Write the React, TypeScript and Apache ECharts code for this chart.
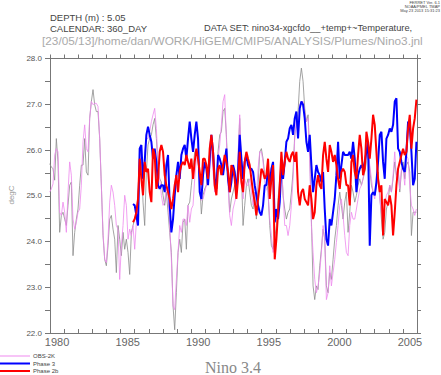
import React, { useEffect, useRef } from "react";
import * as echarts from "echarts";

const SAMPLE_START = 1979.977;
const SAMPLE_STEP = 0.1181;
const MODEL_START_INDEX = 50;

const X_MIN = 1980;
const X_MAX = 2006;
const Y_MIN = 22;
const Y_MAX = 28;
const X_LABEL_YEARS = [1980, 1985, 1990, 1995, 2000, 2005];

// Unlabelled grey observational curve
const obsGrey = [
  25.70, 25.63, 25.59, 25.34, 26.25, 25.74, 24.20, 24.57, 24.64, 24.49,
  24.35, 24.79, 25.23, 25.30, 23.69, 24.20, 24.49, 24.71, 25.23, 25.67,
  25.67, 26.25, 25.52, 25.45, 26.69, 27.06, 27.32, 26.99, 26.84, 26.84,
  26.25, 25.23, 24.13, 23.61, 23.47, 23.91, 24.49, 24.57, 24.27, 24.05,
  23.32, 24.35, 24.05, 23.69, 24.20, 23.83,
  24.05, 23.76, 23.28, 24.20, 24.35, 24.49, 24.64, 25.01, 25.59, 25.74,
  24.86, 24.35, 25.52, 26.11, 26.25, 26.33, 26.55, 26.69, 26.25, 25.67,
  25.37, 25.30, 25.01, 24.79, 25.08, 24.64, 24.20, 23.76, 22.59, 22.07,
  22.88, 23.76, 24.05, 23.76, 24.42, 24.49, 23.83, 24.79, 24.86, 25.23,
  25.59, 25.96, 26.00, 25.80,
  25.30, 24.60, 25.01, 25.15, 25.23, 25.59, 25.74, 26.11, 25.67, 25.15,
  25.23, 25.96, 26.33, 26.40, 26.84, 26.91, 26.33, 25.37, 24.64, 24.93,
  25.08, 25.23, 24.93, 25.81, 26.69, 25.52, 24.35, 24.79, 25.23, 25.37,
  25.08, 24.79, 24.71, 25.08, 24.49, 25.23, 25.96, 26.03, 25.81, 25.45,
  25.37, 25.08, 24.35, 23.91, 23.83,
  24.05, 24.35, 24.93, 25.37, 25.74, 25.01, 24.71, 24.49, 24.64, 24.71,
  25.08, 25.52, 26.33, 26.55, 26.84, 27.50, 27.79, 27.50, 26.91, 26.62,
  26.77, 25.96, 24.49, 23.03, 22.73, 23.03, 22.95, 23.47, 23.83, 24.27,
  24.05, 23.03, 22.88, 23.32, 23.17, 23.61, 24.05, 24.35, 24.79, 25.08,
  24.79, 24.49, 24.86, 25.08,
  24.20, 24.64, 25.23, 25.08, 24.86, 25.01, 25.23, 25.37, 25.23, 25.37,
  25.52, 25.74, 26.03, 25.59, 25.23, 25.08, 25.01, 25.23, 25.52, 25.01,
  24.49, 24.05, 24.20, 24.71, 24.86, 25.23, 25.08, 25.37, 25.74, 25.45,
  25.59, 25.08, 25.52, 25.74, 25.37, 25.67, 25.74, 25.52, 24.13, 24.64,
  24.64, 24.64,
];

const obs2k = [
  25.08, 25.15, 25.26, 25.89, 26.03, 25.96, 24.64, 24.57, 24.86, 24.64,
  24.20, 25.08, 25.74, 25.45, 24.49, 24.27, 24.42, 24.64, 24.71, 25.23,
  26.18, 26.55, 26.03, 25.96, 26.69, 27.06, 26.99, 27.02, 27.02, 26.95,
  26.25, 25.23, 24.20, 23.61, 23.54, 24.05, 24.86, 25.23, 25.08, 24.79,
  24.35, 24.27, 23.17, 23.91, 24.35, 25.01,
  24.79, 24.05, 24.27, 24.13, 24.35, 23.83, 24.42, 24.71, 25.67, 25.96,
  25.23, 25.96, 26.25, 26.25, 26.40, 26.62, 26.77, 26.91, 26.47, 25.74,
  25.37, 25.01, 24.79, 24.86, 25.23, 24.93, 24.35, 23.61, 22.59, 22.51,
  23.17, 23.76, 24.35, 24.20, 24.49, 24.49, 24.35, 24.79, 24.42, 24.71,
  24.79, 25.37, 25.80, 25.90,
  25.40, 24.90, 24.93, 25.08, 25.23, 25.37, 25.52, 26.11, 25.52, 25.08,
  25.23, 25.81, 26.11, 26.55, 27.06, 27.21, 26.25, 25.23, 24.57, 24.35,
  24.71, 24.86, 25.01, 25.89, 26.77, 25.74, 24.93, 25.37, 25.23, 25.23,
  25.37, 25.08, 24.79, 25.08, 24.93, 25.59, 25.96, 25.96, 25.74, 25.30,
  25.15, 25.08, 24.49, 24.13, 23.76,
  23.98, 24.20, 24.64, 25.08, 25.59, 25.08, 24.35, 24.35, 24.13, 24.35,
  24.79, 25.37, 26.25, 26.69, 26.47, 26.99, 27.06, 27.06, 26.84, 26.62,
  26.69, 25.74, 24.35, 23.76, 23.17, 22.88, 23.03, 23.32, 23.76, 24.35,
  24.05, 22.73, 22.88, 23.47, 23.03, 23.32, 23.61, 23.98, 24.35, 24.79,
  24.93, 24.57, 24.13, 23.76,
  23.69, 24.35, 24.64, 24.49, 24.49, 24.71, 24.93, 25.15, 25.23, 25.37,
  25.67, 25.81, 26.03, 25.67, 25.37, 25.08, 24.93, 25.23, 25.45, 24.93,
  24.64, 24.49, 24.79, 25.01, 25.08, 25.23, 25.08, 25.45, 25.96, 25.37,
  25.59, 25.15, 25.59, 25.59, 25.23, 25.89, 25.81, 25.23, 24.79, 24.71,
  24.57, 24.71,
];

const phase3 = [
  24.82, 24.79, 24.57, 24.35, 26.03, 26.11, 25.37, 25.74, 26.33, 26.51,
  26.33, 26.18, 25.81, 26.03, 25.74, 25.23, 25.15, 25.23, 25.23, 25.08,
  25.67, 25.89, 24.79, 24.20, 24.49, 25.01, 25.45, 25.74, 25.37, 25.89,
  26.03, 26.11, 25.81, 26.25, 26.62, 26.25, 25.96, 26.33, 26.62, 26.25,
  25.08, 24.93, 25.45, 25.74, 25.59, 25.23, 25.81, 26.33, 25.96, 25.37,
  25.15, 25.89, 25.81, 25.67, 25.45, 25.74, 26.03, 25.37, 25.08, 25.30,
  25.67, 25.52, 25.08, 25.52, 26.33, 25.81, 25.37, 25.74, 25.89, 25.67,
  25.59, 25.59, 25.52, 25.23, 25.01, 24.79, 24.64, 24.57, 24.79, 25.23,
  25.23, 25.59, 25.23, 25.59, 25.74,
  24.42, 24.71, 24.49, 24.86, 25.67, 25.37, 25.74, 26.18, 26.25, 26.47,
  26.55, 26.33, 26.69, 26.84, 26.25, 26.91, 27.06, 26.99, 26.69, 26.18,
  25.96, 26.33, 25.67, 25.08, 25.37, 25.67, 25.52, 25.45, 25.30, 25.52,
  24.71, 24.05, 23.91, 24.49, 24.35, 24.64, 24.93, 25.45, 26.18, 25.37,
  25.67, 25.96, 25.89, 25.89,
  25.89, 25.96, 25.81, 26.18, 25.81, 25.08, 25.45, 25.59, 25.67, 25.59,
  25.74, 25.96, 26.18, 23.91, 25.01, 25.08, 25.01, 25.30, 25.74, 26.33,
  26.40, 25.74, 25.37, 26.25, 26.33, 26.47, 26.40, 26.55, 27.06, 27.13,
  26.03, 25.96, 25.74, 25.59, 25.52, 25.96, 26.62, 26.55, 25.96, 25.23,
  25.37, 26.18,
];

const phase2b = [
  24.42, 24.49, 24.64, 24.93, 25.81, 25.37, 25.01, 25.74, 25.52, 25.59,
  25.08, 24.86, 26.03, 25.89, 25.15, 25.37, 25.96, 26.11, 25.96, 25.45,
  25.23, 25.08, 24.93, 24.71, 24.93, 25.23, 25.45, 25.08, 25.52, 25.67,
  25.74, 25.67, 25.89, 25.74, 25.59, 25.81, 25.37, 25.74, 26.03, 25.81,
  25.52, 25.23, 25.81, 25.81, 25.67, 25.37, 26.03, 26.33, 25.96, 25.23,
  25.01, 25.59, 25.67, 25.45, 25.67, 25.89, 25.74, 25.52, 25.08, 25.67,
  25.59, 25.37, 24.93, 25.37, 25.96, 25.30, 25.08, 25.74, 25.96, 25.81,
  25.67, 25.37, 25.08, 24.86, 24.57, 24.93, 25.23, 25.59, 25.52, 25.37,
  25.45, 25.81, 24.93, 25.37, 25.67,
  23.61, 24.05, 24.64, 25.23, 25.96, 25.45, 25.74, 25.96, 25.81, 25.74,
  25.89, 25.96, 25.74, 25.96, 25.08, 24.79, 25.08, 25.15, 24.93, 24.86,
  24.79, 25.23, 24.93, 24.49, 24.64, 25.23, 25.45, 25.23, 25.15, 25.89,
  26.18, 25.81, 25.52, 26.11, 25.96, 25.74, 25.89, 25.67, 25.37, 25.15,
  25.52, 25.59, 25.52, 25.23,
  25.23, 24.79, 25.74, 25.89, 25.52, 25.37, 25.89, 26.33, 26.03, 25.45,
  25.59, 26.40, 26.18, 25.81, 26.25, 26.77, 26.55, 25.96, 25.37, 25.08,
  25.23, 24.13, 24.93, 24.86, 24.79, 25.01, 24.79, 24.13, 24.64, 25.23,
  25.59, 25.74, 25.89, 26.03, 25.89, 25.96, 26.47, 26.77, 26.03, 26.47,
  26.69, 27.10,
];

const toPairs = (vals: number[], startIndex: number) =>
  vals.map((v, k) => [SAMPLE_START + (startIndex + k) * SAMPLE_STEP, v]);

const FONT = "Liberation Sans";

export default function App() {
  const ref = useRef<HTMLDivElement>(null);
  useEffect(() => {
    if (!ref.current) return;
    const chart = echarts.init(ref.current, undefined, { renderer: "svg" });
    const axisColor = "#777";
    const commonX = {
      type: "value" as const,
      min: X_MIN,
      max: X_MAX,
      interval: 1,
      splitLine: { show: false },
    };
    const commonY = {
      type: "value" as const,
      min: Y_MIN,
      max: Y_MAX,
      interval: 0.5,
      splitLine: { show: false },
    };
    chart.setOption({
      animation: false,
      backgroundColor: "#ffffff",
      grid: { left: 50, right: 24, top: 58.5, bottom: 42, containLabel: false },
      xAxis: [
        {
          ...commonX,
          position: "bottom",
          axisLine: { show: true, lineStyle: { color: axisColor, width: 1 } },
          axisTick: { show: true, inside: true, length: 4, lineStyle: { color: axisColor } },
          axisLabel: { show: false },
        },
        {
          ...commonX,
          position: "top",
          axisLine: { show: true, lineStyle: { color: axisColor, width: 1 } },
          axisTick: { show: true, inside: false, length: 4, lineStyle: { color: axisColor } },
          axisLabel: { show: false },
        },
        {
          type: "value",
          min: X_MIN,
          max: X_MAX,
          interval: 0.5,
          position: "bottom",
          splitLine: { show: false },
          axisLine: { show: false },
          axisTick: { show: false },
          axisLabel: {
            show: true,
            margin: 3,
            fontFamily: FONT,
            fontSize: 11,
            color: "#666",
            formatter: (v: number) => {
              const y = Math.floor(v);
              return v - y === 0.5 && X_LABEL_YEARS.includes(y) ? String(y) : "";
            },
          },
        },
      ],
      yAxis: [
        {
          ...commonY,
          position: "left",
          axisLine: { show: true, lineStyle: { color: axisColor, width: 1 } },
          axisTick: { show: true, inside: false, length: 5, lineStyle: { color: axisColor } },
          axisLabel: {
            show: true,
            margin: 8,
            fontFamily: FONT,
            fontSize: 8,
            color: "#555",
            formatter: (v: number) => (Number.isInteger(v) ? v.toFixed(1) : ""),
          },
        },
        {
          ...commonY,
          position: "right",
          axisLine: { show: true, lineStyle: { color: axisColor, width: 1 } },
          axisTick: { show: true, inside: false, length: 4, lineStyle: { color: axisColor } },
          axisLabel: { show: false },
        },
      ],
      legend: {
        data: [
          { name: "OBS-2K", icon: "rect", itemStyle: { color: "#f7c4f7" } },
          { name: "Phase 3", icon: "rect", itemStyle: { color: "#0000ff" } },
          { name: "Phase 2b", icon: "rect", itemStyle: { color: "#ff0000" } },
        ],
        orient: "vertical",
        left: 0,
        top: 353,
        itemWidth: 30,
        itemHeight: 2,
        itemGap: 1.5,
        padding: 0,
        textStyle: { fontFamily: FONT, fontSize: 6, color: "#444", padding: [0, 0, 0, -2] },
      },
      series: [
        {
          name: "OBS",
          type: "line",
          data: toPairs(obsGrey, 0),
          showSymbol: false,
          symbol: "none",
          lineStyle: { color: "#8c8c8c", width: 0.8 },
          itemStyle: { color: "#8c8c8c" },
          z: 1,
        },
        {
          name: "OBS-2K",
          type: "line",
          data: toPairs(obs2k, 0),
          showSymbol: false,
          symbol: "none",
          lineStyle: { color: "#ee88ee", width: 0.8 },
          itemStyle: { color: "#ee88ee" },
          z: 2,
        },
        {
          name: "Phase 3",
          type: "line",
          data: toPairs(phase3, MODEL_START_INDEX),
          showSymbol: false,
          symbol: "none",
          lineStyle: { color: "#0000ff", width: 2 },
          itemStyle: { color: "#0000ff" },
          z: 3,
        },
        {
          name: "Phase 2b",
          type: "line",
          data: toPairs(phase2b, MODEL_START_INDEX),
          showSymbol: false,
          symbol: "none",
          lineStyle: { color: "#ff0000", width: 2 },
          itemStyle: { color: "#ff0000" },
          z: 4,
        },
      ],
      graphic: [
        {
          type: "text",
          x: 440,
          y: 0,
          style: {
            text: "FERRET Ver. 6.1\nNOAA/PMEL TMAP\nMay 23 2013 15:31:23",
            fontFamily: FONT,
            fontSize: 4,
            lineHeight: 4.3,
            fill: "#444",
            textAlign: "right",
          },
        },
        {
          type: "text",
          x: 50,
          y: 12,
          style: { text: "DEPTH (m) : 5.05", fontFamily: FONT, fontSize: 9.5, fill: "#444" },
        },
        {
          type: "text",
          x: 50,
          y: 23,
          style: { text: "CALENDAR: 360_DAY", fontFamily: FONT, fontSize: 9.5, fill: "#444" },
        },
        {
          type: "text",
          x: 204,
          y: 23,
          style: {
            text: "DATA SET: nino34-xgcfdo__+temp+~Temperature,",
            fontFamily: FONT,
            fontSize: 9.3,
            fill: "#444",
          },
        },
        {
          type: "text",
          x: 42,
          y: 35,
          style: {
            text: "[23/05/13]/home/dan/WORK/HiGEM/CMIP5/ANALYSIS/Plumes/Nino3.jnl",
            fontFamily: FONT,
            fontSize: 11.8,
            fill: "#aaa",
          },
        },
        {
          type: "text",
          x: 11,
          y: 195,
          rotation: Math.PI / 2,
          style: {
            text: "degC",
            fontFamily: FONT,
            fontSize: 8,
            fill: "#999",
            textAlign: "center",
            textVerticalAlign: "middle",
          },
        },
        {
          type: "text",
          x: 233,
          y: 367,
          style: {
            text: "Nino 3.4",
            fontFamily: "Liberation Serif",
            fontSize: 16,
            fill: "#888",
            textAlign: "center",
            textVerticalAlign: "middle",
          },
        },
      ],
    });
    return () => chart.dispose();
  }, []);
  return (
    <div
      ref={ref}
      style={{ position: "fixed", left: 0, top: 0, width: 441, height: 375, background: "#fff" }}
    />
  );
}
